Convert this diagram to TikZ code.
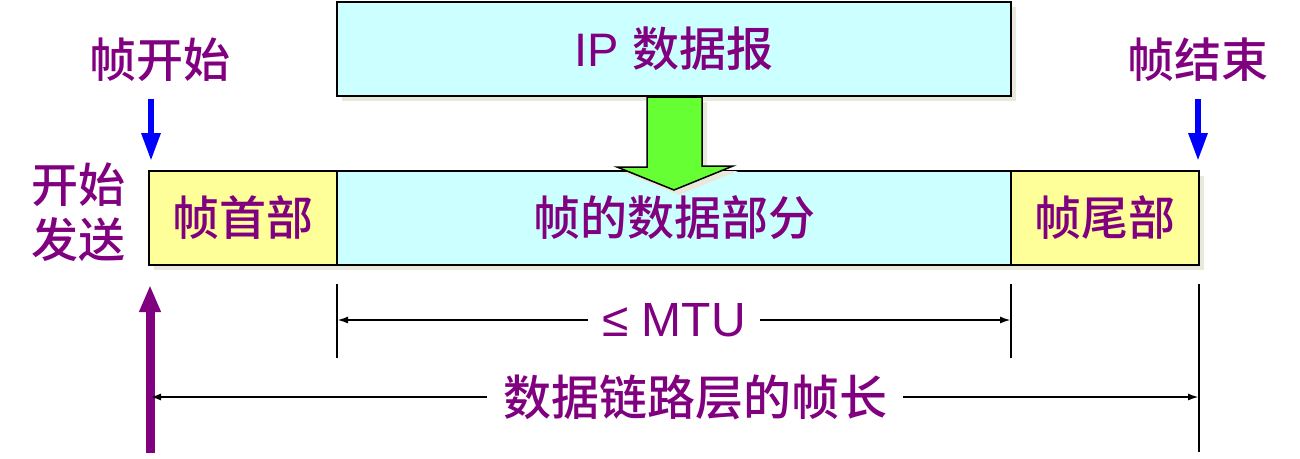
\documentclass[tikz,border=0pt]{standalone}
\usepackage{fontspec}
\setmainfont{Liberation Sans}
\newfontfamily\cjk[UprightFont={* Medium}]{Noto Sans CJK SC}
\usetikzlibrary{calc,positioning,shadows,arrows.meta}
\definecolor{boxcyan}{HTML}{CCFFFF}
\definecolor{boxyellow}{HTML}{FFFF99}
\definecolor{txtpurple}{HTML}{800080}
\definecolor{arrowgreen}{HTML}{66FF33}
\definecolor{shadowgray}{HTML}{E8E8DC}
\begin{document}
\begin{tikzpicture}[x=1pt,y=-1pt]
  \tikzset{ box/.style={draw=black,line width=2pt,minimum height=94pt,inner sep=0pt,
      text=txtpurple,font=\fontsize{47}{50}\selectfont\cjk,
      drop shadow={shadow xshift=5pt,shadow yshift=-5pt,fill=shadowgray,opacity=1}},
    lbl/.style={text=txtpurple,font=\fontsize{47}{55}\selectfont\cjk,inner sep=0pt,align=center},
    dim/.style={line width=2pt},
    dimarrow/.style={line width=2pt,{Latex[length=11pt,width=7pt]}-{Latex[length=11pt,width=7pt]}},
  }
  \useasboundingbox (0,0) rectangle (1300,458);

  % the frame and the datagram
  \node[box,fill=boxcyan,minimum width=674pt] (ip) at (674,49) {\fontspec{Liberation Sans}IP \cjk 数据报};
  \node[box,fill=boxyellow,minimum width=188pt] (head) at (243,218) {帧首部};
  \node[box,fill=boxcyan,minimum width=674pt] (data) at (674,218) {帧的数据部分};
  \node[box,fill=boxyellow,minimum width=188pt] (tail) at (1105,218) {帧尾部};

  % the green arrow into the data part
  \draw[line width=1.5pt,fill=arrowgreen,drop shadow={shadow xshift=5pt,shadow yshift=-5pt,fill=shadowgray,opacity=1}]
    ($(ip.south)+(-27,0)$) -- ++(0,70) -- ++(-30,0) -- (674,190) -- (733,166) -- ++(-31,0) -- ($(ip.south)+(28,0)$) -- cycle;

  % labels at the ends
  \node[lbl] (start) at (160,60) {帧开始};
  \node[lbl] (end) at (1198,60) {帧结束};
  \node[lbl] (send) at (78,212) {开始\\发送};

  \coordinate (s1) at (151,99);
  \coordinate (s2) at (151,161);
  \coordinate (e1) at (1198,99);
  \coordinate (e2) at (1198,161);
  \draw[blue,line width=6pt,-{Triangle[length=28pt,width=18pt]}] (s1) -- (s2);
  \draw[blue,line width=6pt,-{Triangle[length=28pt,width=18pt]}] (e1) -- (e2);
  \coordinate (p1) at (150,453);
  \coordinate (p2) at (150,285);
  \draw[txtpurple,line width=9pt,-{Triangle[length=27pt,width=20pt]}] (p1) -- (p2);

  % the ticks
  \coordinate (t1) at (337,284);
  \coordinate (t2) at (1011,284);
  \coordinate (t3) at (1199,284);
  \draw[dim] (t1) -- ++(0,74);
  \draw[dim] (t2) -- ++(0,74);
  \draw[dim] (t3) -- ++(0,168);

  % the lengths
  \coordinate (m1) at (337,320);
  \coordinate (m2) at (1011,320);
  \coordinate (f1) at (150,397);
  \coordinate (f2) at (1199,397);
  \draw[dimarrow] (m1) -- (m2) node[midway,fill=white,text=txtpurple,inner xsep=14pt,font=\fontsize{48}{50}\selectfont] (mtu) {≤ MTU};
  \draw[dimarrow] (f1) -- (f2) node[pos=0.52,fill=white,text=txtpurple,inner xsep=16pt,font=\fontsize{48}{50}\selectfont\cjk] (len) {数据链路层的帧长};
\end{tikzpicture}
\end{document}
